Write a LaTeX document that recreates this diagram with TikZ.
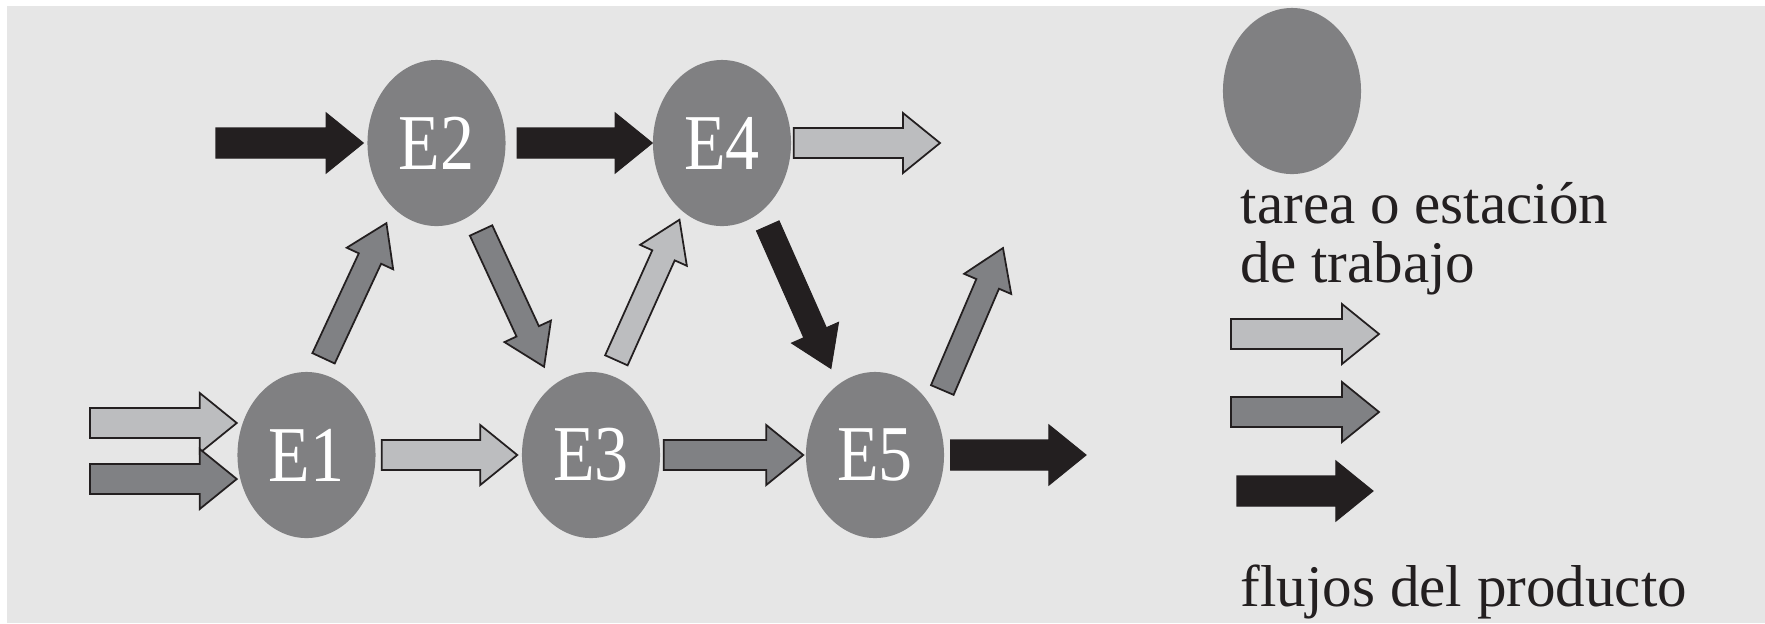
\documentclass[tikz,border=0pt]{standalone}
\usepackage{fontspec}
\setmainfont{Liberation Serif}
\usetikzlibrary{calc,shapes.geometric}

\definecolor{paper}{HTML}{E6E6E6}
\definecolor{stationgray}{HTML}{808082}
\definecolor{flowlight}{HTML}{BCBDBF}
\definecolor{flowmid}{HTML}{808184}
\definecolor{ink}{HTML}{231F20}

\tikzset{
  flow shaft/.store in=\fatsw,
  flow head/.store in=\fathw,
  flow head length/.store in=\fathl,
  flow shaft=0.15cm, flow head=0.30cm, flow head length=0.37cm,
  % block arrow drawn as a closed outline from the start point to the tip
  flow/.style={to path={
    let \p1=(\tikztostart), \p2=(\tikztotarget),
        \p3=($(\p2)!\fathl!(\p1)$) in
    ($(\p1)!\fatsw!90:(\p2)$) -- ($(\p3)!\fatsw!90:(\p2)$)
    -- ($(\p3)!\fathw!90:(\p2)$) -- (\p2)
    -- ($(\p3)!\fathw!-90:(\p2)$) -- ($(\p3)!\fatsw!-90:(\p2)$)
    -- ($(\p1)!\fatsw!-90:(\p2)$) -- cycle}},
  slim/.style={flow shaft=0.123cm, flow head=0.256cm, flow head length=0.39cm},
  lightflow/.style={flow, fill=flowlight, draw=ink, line width=0.5pt, line join=miter},
  midflow/.style={flow, fill=flowmid, draw=ink, line width=0.5pt, line join=miter},
  darkflow/.style={flow, fill=ink, draw=ink, line width=0.3pt, line join=miter},
  station/.style={ellipse, fill=stationgray, minimum width=1.38cm,
    minimum height=1.66cm, inner sep=0pt, text=white,
    font=\fontsize{22.5}{27}\selectfont},
  keytext/.style={anchor=base west, inner sep=0pt, text=ink,
    font=\fontsize{16.8}{20}\selectfont},
}

\begin{document}
\begin{tikzpicture}[x=0.01cm, y=-0.01cm]
  % canvas and grey panel
  \fill[white] (0,0) rectangle (1765,623);
  \useasboundingbox (0,0) rectangle (1765,623);
  \fill[paper] (7,6) rectangle (1765,623);

  % work stations
  \node[station] (E1) at (306.5,455) {\scalebox{0.86}[1]{E1}};
  \node[station] (E2) at (436.5,143) {\scalebox{0.86}[1]{E2}};
  \node[station] (E3) at (591,455)   {\scalebox{0.86}[1]{E3}};
  \node[station] (E4) at (722,143)   {\scalebox{0.86}[1]{E4}};
  \node[station] (E5) at (875,455)   {\scalebox{0.86}[1]{E5}};

  % free ends of incoming and outgoing flows
  \coordinate (inL)  at (90,423);
  \coordinate (inM)  at (90,479);
  \coordinate (inB)  at (216,143);
  \coordinate (outE4) at (940,143);
  \coordinate (outE5) at (1086,455);
  \coordinate (outD) at (1003,248);

  % top row
  \draw[darkflow]  (inB) to ([xshift=-0.035cm]E2.west);
  \draw[darkflow]  ([xshift=0.11cm]E2.east) to (E4.west);
  \draw[lightflow] ([xshift=0.02cm]E4.east) to (outE4);

  % bottom row
  \draw[lightflow] (inL) to ([yshift=0.32cm]E1.west);
  \draw[midflow]   (inM) to ([yshift=-0.24cm]E1.west);
  \draw[lightflow] ([xshift=0.055cm]E1.east) to ([xshift=-0.04cm]E3.west);
  \draw[midflow]   ([xshift=0.03cm]E3.east) to ([xshift=-0.02cm]E5.west);
  \draw[darkflow]  ([xshift=0.06cm]E5.east) to (outE5);

  % diagonal flows
  \draw[midflow, slim]   ([shift={(80:0.15cm)}]E1.80) to ([shift={(238:0.155cm)}]E2.238);
  \draw[midflow, slim]   ([shift={(-63:0.18cm)}]E2.-63) to ([shift={(118:0.2cm)}]E3.118);
  \draw[lightflow, slim] ([shift={(75:0.155cm)}]E3.75) to ([shift={(241:0.08cm)}]E4.241);
  \draw[darkflow, slim]  ([shift={(-61.5:0.15cm)}]E4.-61.5) to ([shift={(117:0.17cm)}]E5.117);
  \draw[midflow, slim]   ([shift={(44:0.18cm)}]E5.44) to (outD);

  % key
  \node[station] (key) at (1292,91) {};
  \node[keytext] (keyA) at (1240,223) {tarea o estación};
  \node[keytext] (keyB) at (1240,282) {de trabajo};

  \coordinate (kL1) at (1231,334);
  \coordinate (kL2) at (1379,334);
  \coordinate (kM1) at (1231,412);
  \coordinate (kM2) at (1379,412);
  \coordinate (kB1) at (1237,491);
  \coordinate (kB2) at (1373,491);
  \draw[lightflow] (kL1) to (kL2);
  \draw[midflow]   (kM1) to (kM2);
  \draw[darkflow]  (kB1) to (kB2);

  \node[keytext] (keyC) at (1240,606) {flujos del producto};
\end{tikzpicture}
\end{document}
